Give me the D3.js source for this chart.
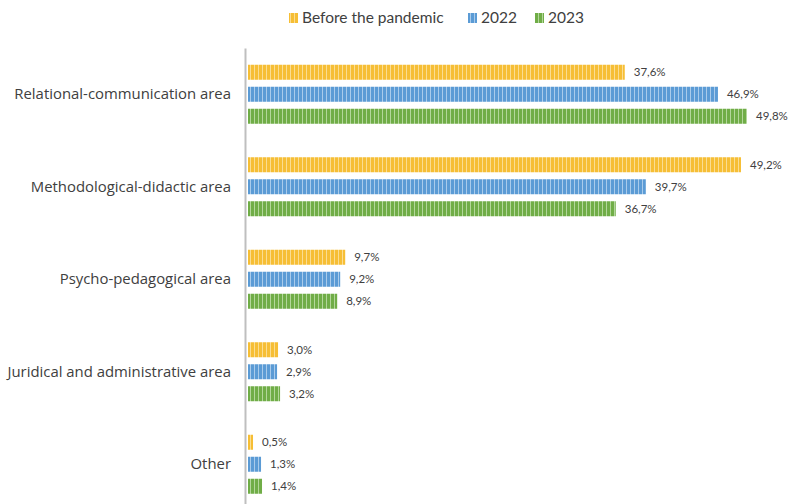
<!DOCTYPE html>
<html>
<head>
<meta charset="utf-8">
<script src="https://cdn.jsdelivr.net/npm/d3@7"></script>
<style>
  html, body { margin: 0; padding: 0; background: #fff; }
  svg { display: block; }
  text { font-family: "Lato", "Open Sans", sans-serif; fill: #404040; }
</style>
</head>
<body>
<svg id="chart" width="789" height="504"></svg>
<script>
const categories = ["Relational-communication area", "Methodological-didactic area", "Psycho-pedagogical area", "Juridical and administrative area", "Other"];
const seriesNames = ["Before the pandemic", "2022", "2023"];
const beforePandemic = [37.6, 49.2, 9.7, 3.0, 0.5];
const y2022 = [46.9, 39.7, 9.2, 2.9, 1.3];
const y2023 = [49.8, 36.7, 8.9, 3.2, 1.4];
const seriesValues = [beforePandemic, y2022, y2023];
const seriesColors = ["#F6BE35", "#5B9BD5", "#70AD47"];
const stripeColors = ["#FBDD92", "#A9CBEB", "#B3D79B"];

const svg = d3.select("#chart");
const defs = svg.append("defs");
seriesNames.forEach((s, i) => {
  const p = defs.append("pattern").attr("id", "pat" + i)
    .attr("patternUnits", "userSpaceOnUse").attr("width", 4).attr("height", 4);
  p.append("rect").attr("width", 4).attr("height", 4).attr("fill", seriesColors[i]);
  p.append("rect").attr("x", 2).attr("width", 1).attr("height", 4).attr("fill", stripeColors[i]);
});

const x0 = 248;
const x = d3.scaleLinear().domain([0, 49.8]).range([x0, 747]);
const y = d3.scaleBand().domain(categories).range([48, 48 + 92.5 * 5]).paddingInner(0).paddingOuter(0);
const ys = d3.scaleBand().domain(seriesNames).range([-29.5, 29.5]).paddingInner(0.318).paddingOuter(0);

const fmt = v => d3.format(".1f")(v).replace(".", ",") + "%";

const data = [];
categories.forEach((c, ci) => seriesNames.forEach((s, si) => data.push({c, s, si, v: seriesValues[si][ci]})));

svg.append("g").selectAll("rect").data(data).join("rect")
  .attr("x", x(0))
  .attr("y", d => y(d.c) + y.bandwidth() / 2 + ys(d.s))
  .attr("width", d => x(d.v) - x(0))
  .attr("height", ys.bandwidth())
  .attr("fill", d => `url(#pat${d.si})`);

svg.append("g").selectAll("text").data(data).join("text")
  .attr("x", d => x(d.v) + 9)
  .attr("y", d => y(d.c) + y.bandwidth() / 2 + ys(d.s) + ys.bandwidth() / 2)
  .attr("dy", "0.35em")
  .attr("font-size", 11.5)
  .text(d => fmt(d.v));

// category axis
const axis = d3.axisLeft(y).tickSize(0).tickPadding(14);
const gAxis = svg.append("g").attr("transform", "translate(245,0)").call(axis);
gAxis.select(".domain").attr("stroke", "#BFBFBF").attr("stroke-width", 2);
gAxis.selectAll("text").attr("font-size", 14.9).style("fill", "#404040").style("font-family", "'Open Sans', sans-serif");

// legend
const legendX = [289, 468, 535];
const lg = svg.append("g");
seriesNames.forEach((s, i) => {
  lg.append("rect").attr("x", legendX[i]).attr("y", 13).attr("width", 9).attr("height", 10).attr("fill", `url(#pat${i})`);
  lg.append("text").attr("x", legendX[i] + 13).attr("y", 18).attr("dy", "0.35em").attr("font-size", 15.5).text(s);
});
</script>
</body>
</html>
